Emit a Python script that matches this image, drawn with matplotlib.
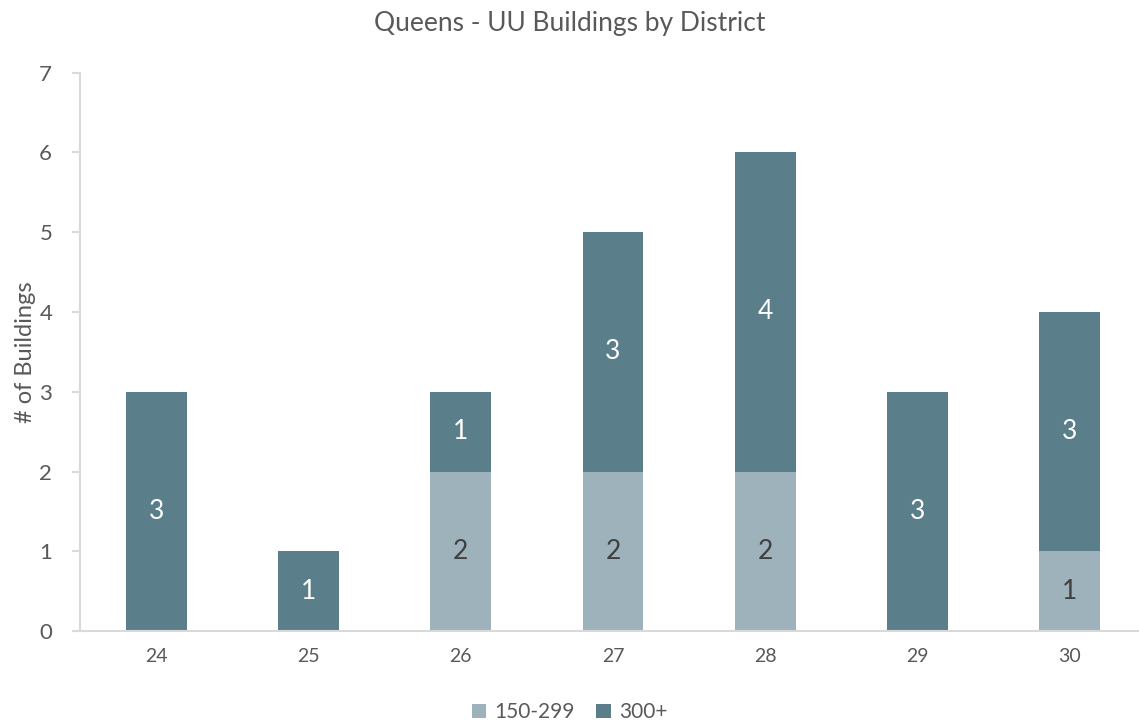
import matplotlib.pyplot as plt
import numpy as np

districts = ["24", "25", "26", "27", "28", "29", "30"]
mid = [0, 0, 2, 2, 2, 0, 1]      # 150-299
big = [3, 1, 1, 3, 4, 3, 3]      # 300+

light = "#9DB2BA"
dark = "#5A7F8A"
grey = "#595959"
axcol = "#D9D9D9"

plt.rcParams['font.family'] = ['Lato', 'DejaVu Sans']

fig = plt.figure(figsize=(11.39, 7.27), dpi=100)
ax = fig.add_axes([0.0702, 0.132, 0.936, 0.768])

x = np.arange(len(districts))
ax.bar(x, mid, width=0.4, color=light, label="150-299")
ax.bar(x, big, width=0.4, bottom=mid, color=dark, label="300+")

# value labels inside the segments
for i in range(len(x)):
    if mid[i] > 0:
        ax.text(x[i], mid[i] / 2, str(mid[i]), ha='center', va='center', fontsize=19, color="#404040")
    if big[i] > 0:
        ax.text(x[i], mid[i] + big[i] / 2, str(big[i]), ha='center', va='center', fontsize=19, color="white")

ax.set_xlim(-0.5, 6.5)
ax.set_ylim(0, 7)
ax.set_xticks(x)
ax.set_xticklabels(districts)
ax.set_yticks(range(8))
ax.tick_params(axis='x', length=0, pad=12, labelsize=14, labelcolor=grey)
ax.tick_params(axis='y', length=6, color=axcol, width=1.5, pad=14, labelsize=16, labelcolor=grey)
for s in ['top', 'right']:
    ax.spines[s].set_visible(False)
for s in ['left', 'bottom']:
    ax.spines[s].set_color(axcol)
    ax.spines[s].set_linewidth(1.5)
ax.set_ylabel("# of Buildings", fontsize=17, color=grey, labelpad=2)

fig.text(0.5, 0.968, "Queens - UU Buildings by District", ha='center', va='center', fontsize=19, color=grey)
fig.legend(loc='center', bbox_to_anchor=(0.5, 0.02), ncol=2, frameon=False,
           fontsize=15, labelcolor=grey, handlelength=0.7, handleheight=0.7,
           handletextpad=0.4, columnspacing=1.0)

fig.savefig("out.png", dpi=100)
